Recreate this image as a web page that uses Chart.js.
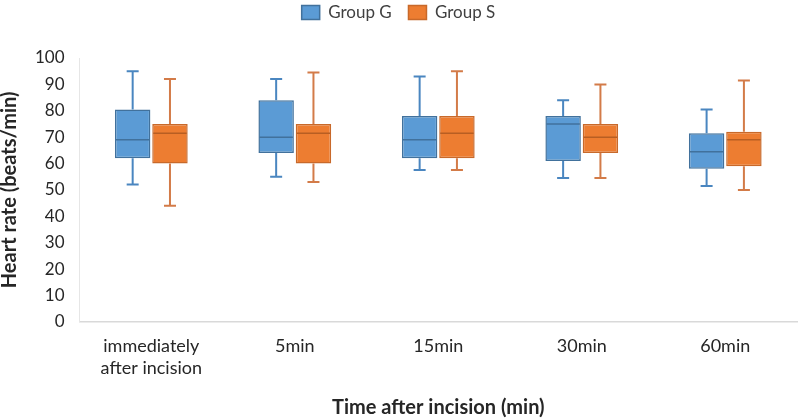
<!DOCTYPE html>
<html>
<head>
<meta charset="utf-8">
<script src="https://cdn.jsdelivr.net/npm/chart.js@4/dist/chart.umd.min.js"></script>
<style>
  html, body { margin: 0; padding: 0; background: #fff; }
  #wrap { width: 800px; height: 418px; }
</style>
</head>
<body>
<div id="wrap"><canvas id="boxChart"></canvas></div>
<script>
// categories on the x axis
const categories = [['immediately', 'after incision'], '5min', '15min', '30min', '60min'];

// Group G (blue)
const gMin    = [52, 55, 57.5, 54.5, 51.5];
const gQ1     = [62, 64, 62, 61, 58];
const gMedian = [69, 70, 69, 75, 64.5];
const gQ3     = [80.5, 84, 78, 78, 71.5];
const gMax    = [95, 92, 93, 84, 80.5];

// Group S (orange)
const sMin    = [44, 53, 57.5, 54.5, 50];
const sQ1     = [60, 60, 62, 64, 59];
const sMedian = [71.5, 71.5, 71.5, 70, 69];
const sQ3     = [75, 75, 78, 75, 72];
const sMax    = [92, 94.5, 95, 90, 91.5];

const yTicks = [0, 10, 20, 30, 40, 50, 60, 70, 80, 90, 100];

const FONT = "Lato, 'Open Sans', sans-serif";

// whiskers + median lines, drawn on top of the floating bars
const boxPlugin = {
  id: 'boxWhiskers',
  beforeInit(chart) {
    // extra room under the legend
    const fit = chart.legend.fit;
    chart.legend.fit = function () {
      fit.bind(chart.legend)();
      this.height += 27;
    };
  },
  afterDatasetsDraw(chart) {
    const ctx = chart.ctx;
    const y = chart.scales.y;
    chart.data.datasets.forEach((ds, di) => {
      const meta = chart.getDatasetMeta(di);
      meta.data.forEach((bar, i) => {
        const x = bar.x;
        const half = bar.width / 2;
        const capHalf = 6;
        const yMin = y.getPixelForValue(ds.whiskerMin[i]);
        const yMax = y.getPixelForValue(ds.whiskerMax[i]);
        const yQ1 = y.getPixelForValue(ds.data[i][0]);
        const yQ3 = y.getPixelForValue(ds.data[i][1]);
        const yMed = y.getPixelForValue(ds.median[i]);
        ctx.save();
        ctx.strokeStyle = ds.whiskerColor;
        ctx.lineWidth = 2;
        ctx.beginPath();
        ctx.moveTo(x, yQ3); ctx.lineTo(x, yMax);
        ctx.moveTo(x - capHalf, yMax); ctx.lineTo(x + capHalf, yMax);
        ctx.moveTo(x, yQ1); ctx.lineTo(x, yMin);
        ctx.moveTo(x - capHalf, yMin); ctx.lineTo(x + capHalf, yMin);
        ctx.stroke();
        ctx.strokeStyle = ds.medianColor;
        ctx.lineWidth = 1.5;
        ctx.beginPath();
        ctx.moveTo(x - half + 1, yMed); ctx.lineTo(x + half - 1, yMed);
        ctx.stroke();
        ctx.restore();
      });
    });
  }
};

new Chart(document.getElementById('boxChart').getContext('2d'), {
  type: 'bar',
  data: {
    labels: categories,
    datasets: [
      {
        label: 'Group G',
        data: gQ1.map((v, i) => [v, gQ3[i]]),
        median: gMedian,
        whiskerMin: gMin,
        whiskerMax: gMax,
        backgroundColor: '#5b9bd5',
        borderColor: '#41719c',
        borderWidth: 1.5,
        borderSkipped: false,
        whiskerColor: '#4a86c0',
        medianColor: '#41719c'
      },
      {
        label: 'Group S',
        data: sQ1.map((v, i) => [v, sQ3[i]]),
        median: sMedian,
        whiskerMin: sMin,
        whiskerMax: sMax,
        backgroundColor: '#ed7d31',
        borderColor: '#c8692a',
        borderWidth: 1.5,
        borderSkipped: false,
        whiskerColor: '#d37b48',
        medianColor: '#b85e22'
      }
    ]
  },
  options: {
    responsive: true,
    maintainAspectRatio: false,
    animation: false,
    layout: { padding: { left: 0, right: 3, top: 0, bottom: 0 } },
    datasets: {
      bar: { barPercentage: 0.95, categoryPercentage: 0.52 }
    },
    plugins: {
      legend: {
        position: 'top',
        labels: {
          font: { family: FONT, size: 17 },
          color: '#404040',
          boxWidth: 18,
          boxHeight: 14,
          padding: 4,
          generateLabels: chart => {
            const items = Chart.defaults.plugins.legend.labels.generateLabels(chart);
            // wider gap between the two legend entries
            items[0].text += '\u2003';
            return items;
          }
        }
      },
      tooltip: { enabled: false }
    },
    scales: {
      x: {
        grid: { display: false },
        border: { color: '#d9d9d9', width: 1.5 },
        ticks: {
          font: { family: FONT, size: 18 },
          color: '#262626',
          maxRotation: 0,
          padding: 6
        },
        title: {
          display: true,
          text: 'Time after incision (min)',
          font: { family: FONT, size: 20, weight: 'bold', lineHeight: 1.0 },
          color: '#262626',
          padding: { top: 13, bottom: 0 }
        }
      },
      y: {
        min: 0,
        max: 100,
        afterBuildTicks: axis => { axis.ticks = yTicks.map(v => ({ value: v })); },
        grid: { display: false, drawTicks: false },
        border: { color: '#e6e6e6', width: 1 },
        ticks: {
          font: { family: FONT, size: 17 },
          color: '#262626',
          padding: 15
        },
        title: {
          display: true,
          text: 'Heart rate (beats/min)',
          font: { family: FONT, size: 20, weight: 'bold', lineHeight: 1.0 },
          color: '#262626',
          padding: { top: 0, bottom: 0 }
        }
      }
    }
  },
  plugins: [boxPlugin]
});
</script>
</body>
</html>
